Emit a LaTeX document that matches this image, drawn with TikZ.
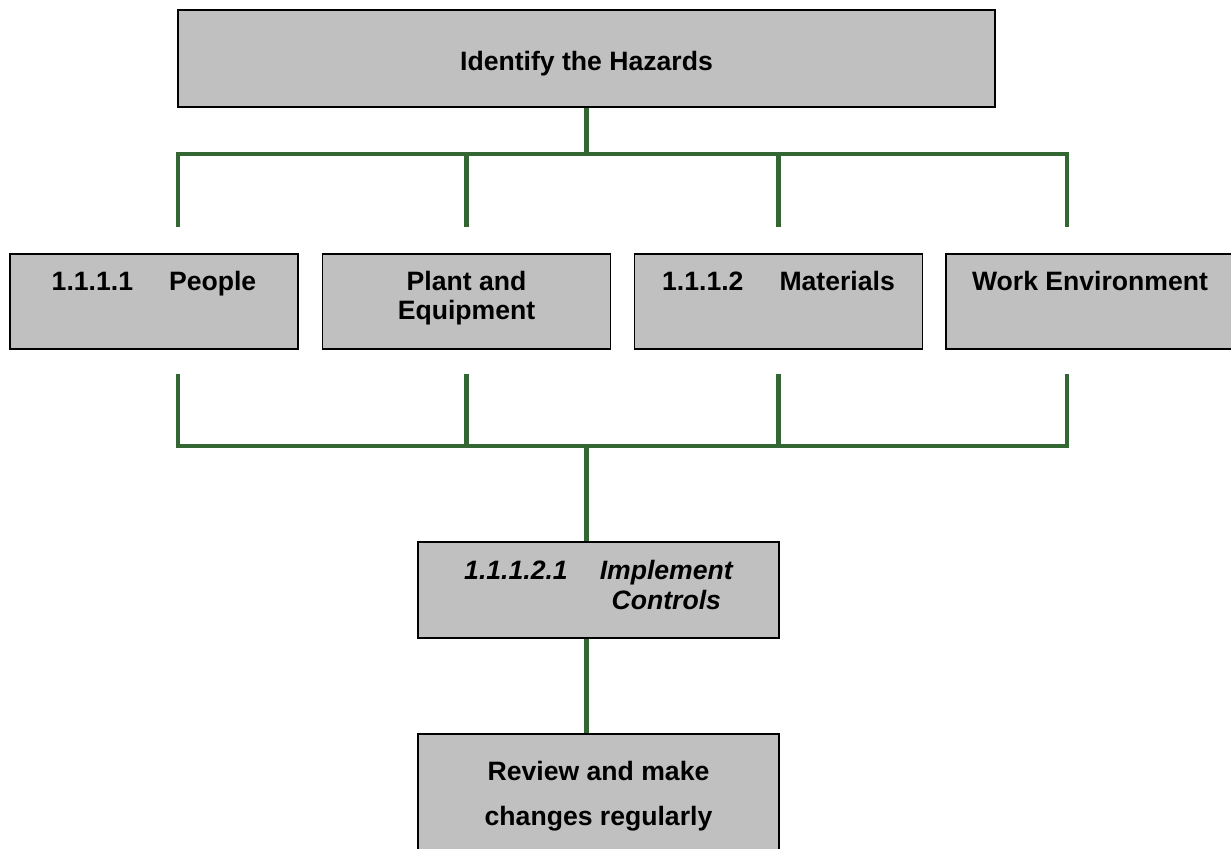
\documentclass[tikz,border=0pt]{standalone}
\usepackage{fontspec}
\setmainfont{Liberation Sans}
\usetikzlibrary{calc,positioning}
\definecolor{boxgray}{RGB}{192,192,192}
\definecolor{busgreen}{RGB}{51,102,51}
\tikzset{
   hazard/.style={ rectangle, draw=black, thick, fill=boxgray, minimum height=47.5pt, minimum width=144pt, inner sep=0pt},
   box text/.style={ anchor=north, inner sep=0pt, align=center, font=\fontsize{13.3}{14.5}\selectfont\bfseries},
   bus/.style={ draw=busgreen, line width=2.3pt},
}
\newcommand{\tabgap}{\hspace{18pt}}

\begin{document}
\begin{tikzpicture}[x=0.5pt,y=-0.5pt]
  \useasboundingbox (0,0) rectangle (1231,848);

  \node[hazard, minimum width=408.5pt, minimum height=48.5pt,
        label={[box text, yshift=-21pt]90:Identify the Hazards}] at (586.5,58.5) (identify) {};

  \node[hazard, label={[box text, yshift=-9pt]90:1.1.1.1\tabgap People}]            at (154,301.5)   (people)      {};
  \node[hazard, label={[box text, yshift=-9pt]90:Plant and\\Equipment}]             at (466.5,301.5) (plant)       {};
  \node[hazard, label={[box text, yshift=-9pt]90:1.1.1.2\tabgap Materials}]         at (778.5,301.5) (materials)   {};
  \node[hazard, label={[box text, yshift=-9pt]90:Work Environment}]                 at (1090,301.5)  (environment) {};

  \node[hazard, minimum width=180.5pt, minimum height=48pt,
        label={[box text, yshift=-8.25pt, font=\fontsize{13.3}{15}\selectfont\bfseries\itshape]90:%
          \begin{tabular}{@{}l@{\hspace{16pt}}c@{}}1.1.1.2.1 & Implement\\ & Controls\end{tabular}}] at (598.5,590) (implement) {};
  \node[hazard, minimum width=180.5pt, minimum height=70pt,
        label={[box text, yshift=-14pt, font=\fontsize{13.3}{22.5}\selectfont\bfseries]90:Review and make\\changes regularly}] at (598.5,804) (review) {};

  %%%%%%%%%%%

  \coordinate (top bus)          at (586.5,154);
  \coordinate (people top)       at (178,227);
  \coordinate (plant top)        at (466.5,227);
  \coordinate (materials top)    at (778.5,227);
  \coordinate (environment top)  at (1067,227);

  \coordinate (bottom bus)         at (586.5,446);
  \coordinate (people bottom)      at (178,374);
  \coordinate (plant bottom)       at (466.5,374);
  \coordinate (materials bottom)   at (778.5,374);
  \coordinate (environment bottom) at (1067,374);

  %%%%%%%%%%%

  \draw[bus] (identify.south) -- (top bus);
  \draw[bus] (people top) |- (top bus) -| (environment top);
  \draw[bus] (plant top) -- (plant top |- top bus);
  \draw[bus] (materials top) -- (materials top |- top bus);

  \draw[bus] (people bottom) |- (bottom bus) -| (environment bottom);
  \draw[bus] (plant bottom) -- (plant bottom |- bottom bus);
  \draw[bus] (materials bottom) -- (materials bottom |- bottom bus);

  \draw[bus] (bottom bus) -- (bottom bus |- implement.north);
  \draw[bus] (implement.south -| bottom bus) -- (review.north -| bottom bus);

\end{tikzpicture}
\end{document}
